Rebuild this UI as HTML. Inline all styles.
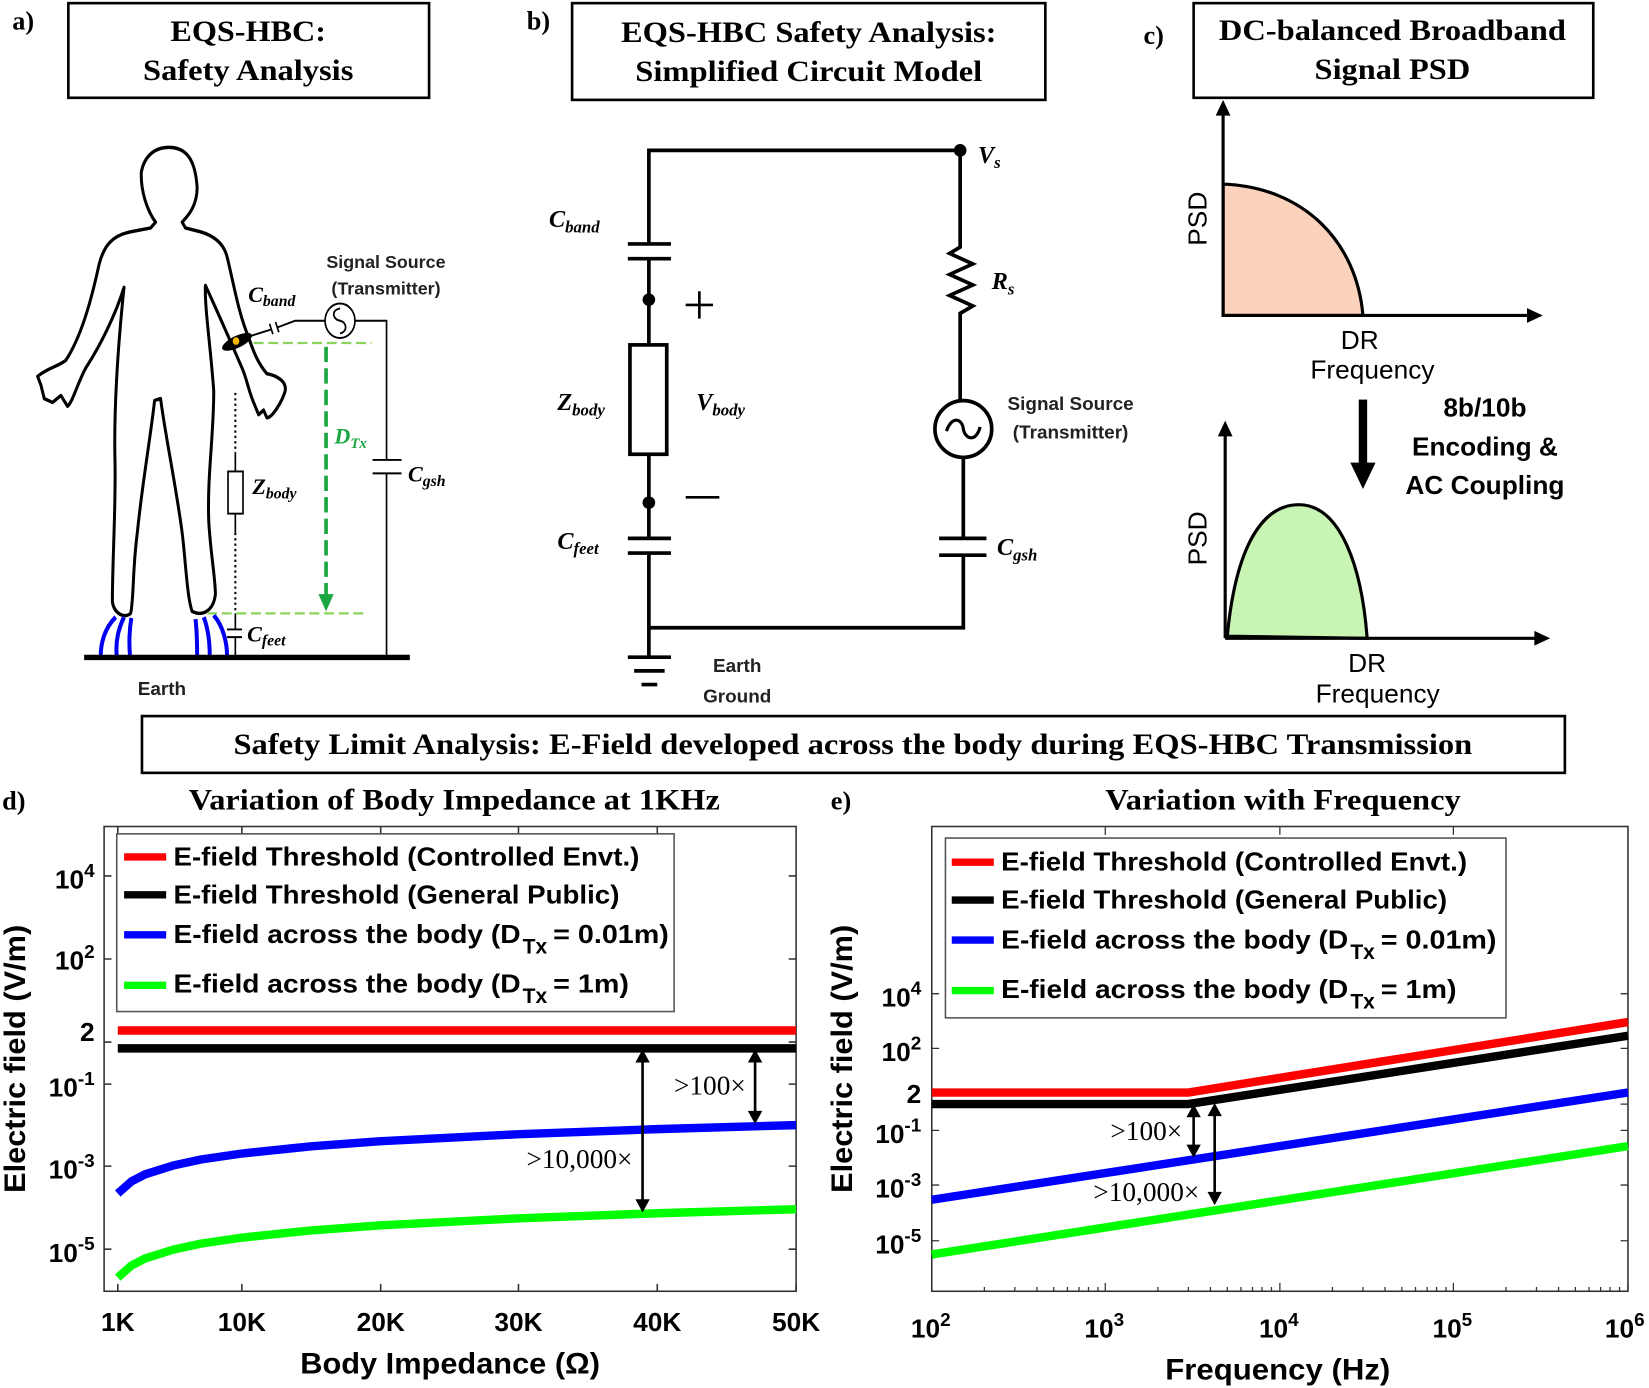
<!DOCTYPE html>
<html><head><meta charset="utf-8"><style>
html,body{margin:0;padding:0;background:#fff}
svg{display:block}
.ser{font-family:"Liberation Serif",serif;font-weight:bold}
.san{font-family:"Liberation Sans",sans-serif;font-weight:bold}
.it{font-family:"Liberation Serif",serif;font-weight:bold;font-style:italic}
</style></head><body>
<svg width="1649" height="1388" viewBox="0 0 1568 1320" preserveAspectRatio="none" xmlns="http://www.w3.org/2000/svg">
<rect width="1568" height="1320" fill="#fff"/>
<!-- Headers -->
<g class="ser" font-size="28" text-anchor="middle">
<text x="22" y="28" font-size="25">a)</text>
<rect x="65" y="3" width="343" height="90" fill="none" stroke="#000" stroke-width="2.5"/>
<text x="236" y="39" textLength="148" lengthAdjust="spacingAndGlyphs">EQS-HBC:</text><text x="236" y="76" textLength="200" lengthAdjust="spacingAndGlyphs">Safety Analysis</text>
<text x="512" y="28" font-size="25">b)</text>
<rect x="544" y="3" width="450" height="92" fill="none" stroke="#000" stroke-width="2.5"/>
<text x="769" y="40" textLength="357" lengthAdjust="spacingAndGlyphs">EQS-HBC Safety Analysis:</text><text x="769" y="77" textLength="330" lengthAdjust="spacingAndGlyphs">Simplified Circuit Model</text>
<text x="1097" y="42" font-size="25">c)</text>
<rect x="1135" y="3" width="380" height="90" fill="none" stroke="#000" stroke-width="2.5"/>
<text x="1324" y="38" textLength="330" lengthAdjust="spacingAndGlyphs">DC-balanced Broadband</text><text x="1324" y="75" textLength="148" lengthAdjust="spacingAndGlyphs">Signal PSD</text>
</g>

<!-- Panel a drawing -->
<g transform="translate(1,94.6) scale(0.316,0.3647)" fill="none" stroke="#000">
<path stroke-width="9" stroke-linejoin="round" d="M505,125 C560,125 585,160 590,230 C590,280 560,305 545,320 L555,335 L600,345 C640,355 670,375 680,410 C700,480 715,560 745,620 C760,660 775,690 800,715 C830,720 860,735 855,760 C845,790 815,830 800,830 L790,810 L775,822 L760,790 C745,760 740,730 725,700 C700,650 660,570 615,485 C612,540 630,640 640,760 C640,880 620,980 625,1100 C630,1180 645,1250 645,1290 C640,1330 610,1350 575,1335 C560,1300 555,1200 545,1130 C525,1000 495,880 480,780 L462,785 C450,880 425,1000 410,1130 C395,1230 400,1300 390,1340 C370,1355 340,1340 335,1310 C335,1200 345,1080 343,950 C340,850 345,700 370,490 C345,560 300,640 255,700 C230,740 215,790 200,800 L180,772 L155,790 L130,780 L120,745 L110,722 C140,700 175,695 195,680 C240,620 270,530 295,430 C310,380 335,355 390,345 L450,335 L465,320 C440,290 420,240 422,190 C430,150 460,125 505,125 Z"/>
<g stroke="#0000ee" stroke-width="12">
<path d="M345,1350 C310,1380 300,1420 300,1450"/><path d="M370,1350 C350,1385 345,1420 348,1450"/><path d="M392,1352 C385,1390 385,1420 388,1450"/>
<path d="M585,1355 C590,1390 590,1420 590,1450"/><path d="M610,1350 C625,1385 628,1420 628,1450"/><path d="M640,1345 C670,1375 680,1420 680,1450"/>
</g>
<ellipse cx="710" cy="632" rx="48" ry="16" transform="rotate(-22 710 632)" fill="#000" stroke="none"/>
<circle cx="707" cy="630" r="10" fill="#f5b800" stroke="none"/>
<g stroke-width="5">
<path d="M750,617 L812,600 M830,595 L885,577 L975,577"/>
<path d="M808,585 L818,612 M826,580 L836,607"/>
<ellipse cx="1020" cy="577" rx="45" ry="45"/>
<path d="M1020,545 C990,550 1000,575 1020,577 C1040,580 1045,605 1020,610"/>
<path d="M1065,577 L1160,577 L1160,940 M1118,940 L1205,940 M1118,975 L1205,975 M1160,975 L1160,1450"/>
<path d="M705,920 L705,970 M705,1080 L705,1130 M705,1340 L705,1382 M680,1382 L725,1382 M680,1402 L725,1402 M705,1402 L705,1450"/>
<rect x="683" y="970" width="45" height="110"/>
</g>
<path d="M705,765 L705,920 M705,1130 L705,1340" stroke-width="6" stroke-dasharray="6,8"/>
<path d="M760,635 L1115,635 M620,1340 L1090,1340" stroke="#8bd35a" stroke-width="6" stroke-dasharray="30,14"/>
<path d="M978,645 L978,1300" stroke="#1aa640" stroke-width="11" stroke-dasharray="40,16"/>
<path d="M955,1290 L978,1335 L1001,1290 Z" fill="#1aa640" stroke="none"/>
<path d="M250,1455 L1230,1455" stroke-width="14"/>
</g>
<g class="san" font-size="17" text-anchor="middle" fill="#222">
<text x="367" y="255">Signal Source</text><text x="367" y="280">(Transmitter)</text>
<text x="154" y="661" font-size="18">Earth</text>
</g>
<g class="it" font-size="21">
<text x="236" y="287">C<tspan font-size="15" dy="4">band</tspan></text>
<text x="318" y="422" fill="#1aa640">D<tspan font-size="14" dy="4">Tx</tspan></text>
<text x="240" y="470">Z<tspan font-size="15" dy="4">body</tspan></text>
<text x="235" y="610">C<tspan font-size="15" dy="4">feet</tspan></text>
<text x="388" y="458">C<tspan font-size="15" dy="4">gsh</tspan></text>
</g>

<!-- Panel b circuit -->
<g fill="none" stroke="#000" stroke-width="3.5">
<path d="M617,232 L617,143 L913,143 L913,235 L903,241 L925,251 L903,261 L925,271 L903,281 L925,291 L913,298 L913,381"/>
<path d="M597,232 L638,232 M597,246 L638,246 M617,246 L617,328 M617,432 L617,512 M597,512 L638,512 M597,526 L638,526 M617,526 L617,625 L617,597 L916,597 L916,528 M893,528 L938,528 M893,512 L938,512 M916,512 L916,435"/>
<rect x="599" y="328" width="35" height="104"/>
<circle cx="916" cy="408" r="27"/>
<path d="M900,410 C905,395 915,398 916,408 C918,418 928,421 932,406" stroke-width="3"/>
<path d="M597,625 L638,625 M603,638 L632,638 M610,651 L625,651"/>
<path d="M652,290 L678,290 M665,277 L665,303 M652,473 L684,473" stroke-width="2.5"/>
</g>
<circle cx="913" cy="143" r="6" fill="#000"/><circle cx="617" cy="285" r="6" fill="#000"/><circle cx="617" cy="478" r="6" fill="#000"/>
<g class="it" font-size="23">
<text x="522" y="216">C<tspan font-size="16" dy="5">band</tspan></text>
<text x="530" y="390">Z<tspan font-size="16" dy="5">body</tspan></text>
<text x="662" y="390">V<tspan font-size="16" dy="5">body</tspan></text>
<text x="530" y="522">C<tspan font-size="16" dy="5">feet</tspan></text>
<text x="930" y="155">V<tspan font-size="16" dy="5">s</tspan></text>
<text x="943" y="275">R<tspan font-size="16" dy="5">s</tspan></text>
<text x="948" y="528">C<tspan font-size="16" dy="5">gsh</tspan></text>
</g>
<g class="san" font-size="18" text-anchor="middle" fill="#222">
<text x="1018" y="390">Signal Source</text><text x="1018" y="417">(Transmitter)</text>
<text x="701" y="639">Earth</text><text x="701" y="668">Ground</text>
</g>

<!-- Panel c -->
<path d="M1163,175 C1240,178 1290,230 1296,300 L1163,300 Z" fill="#fbd3bd" stroke="#000" stroke-width="3"/>
<path d="M1167,605 C1175,520 1200,480 1235,480 C1275,480 1295,540 1300,607 Z" fill="#c8f5b3" stroke="#000" stroke-width="3"/>
<g stroke="#000" stroke-width="3" fill="none">
<path d="M1163,300 L1163,105 M1163,300 L1458,300 M1165,607 L1165,410 M1165,607 L1465,607"/>
</g>
<g fill="#000">
<path d="M1156,110 L1163,95 L1170,110 Z M1452,293 L1467,300 L1452,307 Z M1158,415 L1165,400 L1172,415 Z M1459,600 L1474,607 L1459,614 Z"/>
<rect x="1292" y="380" width="8" height="62"/><path d="M1284,440 L1296,465 L1308,440 Z"/>
</g>
<g font-family="Liberation Sans,sans-serif" font-size="25" text-anchor="middle">
<text transform="translate(1147,208) rotate(-90)">PSD</text>
<text transform="translate(1147,512) rotate(-90)">PSD</text>
<text x="1293" y="332">DR</text><text x="1305" y="360">Frequency</text>
<text x="1300" y="639">DR</text><text x="1310" y="668">Frequency</text>
</g>
<g class="san" font-size="25" text-anchor="middle">
<text x="1412" y="396">8b/10b</text><text x="1412" y="433">Encoding &amp;</text><text x="1412" y="470">AC Coupling</text>
</g>

<!-- Section title -->
<rect x="135" y="681" width="1353" height="54" fill="none" stroke="#000" stroke-width="2.5"/>
<text class="ser" x="811" y="717" font-size="28" text-anchor="middle" textLength="1178" lengthAdjust="spacingAndGlyphs">Safety Limit Analysis: E-Field developed across the body during EQS-HBC Transmission</text>

<!-- Titles -->
<g class="ser" font-size="28">
<text x="2" y="770" font-size="25">d)</text>
<text x="432" y="770" text-anchor="middle" textLength="505" lengthAdjust="spacingAndGlyphs">Variation of Body Impedance at 1KHz</text>
<text x="790" y="770" font-size="25">e)</text>
<text x="1220" y="770" text-anchor="middle" textLength="338" lengthAdjust="spacingAndGlyphs">Variation with Frequency</text>
</g>

<!-- Panel d -->
<rect x="99" y="786" width="658" height="442" fill="none" stroke="#333" stroke-width="1.5"/>
<g stroke="#333" stroke-width="1.5">
<path d="M112,1228 v-7 M230,1228 v-7 M362,1228 v-7 M493,1228 v-7 M625,1228 v-7 M757,1228 v-7 M112,786 v7 M230,786 v7 M362,786 v7 M493,786 v7 M625,786 v7"/>
<path d="M99,833 h7 M99,912 h7 M99,991 h7 M99,1031 h7 M99,1109 h7 M99,1188 h7 M757,833 h-7 M757,912 h-7 M757,991 h-7 M757,1031 h-7 M757,1109 h-7 M757,1188 h-7"/>
</g>
<g fill="none" stroke-width="8">
<path d="M112,980 L757,980" stroke="#ff0000"/>
<path d="M112,997 L757,997" stroke="#000"/>
<path d="M112,1135 L125,1123.5 L138,1116.8 L165,1108.3 L191,1102.7 L230,1097 L296,1090.1 L362,1085.3 L494,1078.6 L625,1073.8 L757,1070" stroke="#0000ff"/>
<path d="M112,1215 L125,1203.5 L138,1196.8 L165,1188.3 L191,1182.7 L230,1177 L296,1170.1 L362,1165.3 L494,1158.6 L625,1153.8 L757,1150" stroke="#00ff00"/>
</g>
<rect x="111" y="793" width="530" height="169" fill="#fff" stroke="#555" stroke-width="1.5"/>
<g stroke-width="7"><path d="M118,815 h40" stroke="#ff0000"/><path d="M118,851 h40" stroke="#000"/><path d="M118,889 h40" stroke="#0000ff"/><path d="M118,937 h40" stroke="#00ff00"/></g>
<g class="san" font-size="25">
<text x="165" y="823" textLength="443" lengthAdjust="spacingAndGlyphs">E-field Threshold (Controlled Envt.)</text>
<text x="165" y="859" textLength="424" lengthAdjust="spacingAndGlyphs">E-field Threshold (General Public)</text>
<text x="165" y="897" textLength="330" lengthAdjust="spacingAndGlyphs">E-field across the body (D</text><text x="497" y="907" font-size="20">Tx</text><text x="526" y="897" textLength="110" lengthAdjust="spacingAndGlyphs">= 0.01m)</text>
<text x="165" y="944" textLength="330" lengthAdjust="spacingAndGlyphs">E-field across the body (D</text><text x="497" y="954" font-size="20">Tx</text><text x="526" y="944" textLength="72" lengthAdjust="spacingAndGlyphs">= 1m)</text>
</g>
<g class="san" font-size="25" text-anchor="end">
<text x="90" y="845">10<tspan font-size="18" dy="-11">4</tspan></text>
<text x="90" y="922">10<tspan font-size="18" dy="-11">2</tspan></text>
<text x="90" y="990">2</text>
<text x="90" y="1043">10<tspan font-size="18" dy="-11">-1</tspan></text>
<text x="90" y="1121">10<tspan font-size="18" dy="-11">-3</tspan></text>
<text x="90" y="1200">10<tspan font-size="18" dy="-11">-5</tspan></text>
</g>
<g class="san" font-size="25" text-anchor="middle">
<text x="112" y="1266">1K</text><text x="230" y="1266">10K</text><text x="362" y="1266">20K</text><text x="493" y="1266">30K</text><text x="625" y="1266">40K</text><text x="757" y="1266">50K</text>
<text x="428" y="1306" font-size="28" textLength="285" lengthAdjust="spacingAndGlyphs">Body Impedance (Ω)</text>
<text transform="translate(24,1007) rotate(-90)" font-size="28" textLength="255" lengthAdjust="spacingAndGlyphs">Electric field (V/m)</text>
</g>
<g stroke="#000" stroke-width="2.5" fill="#000">
<path d="M718,1006 L718,1061 M611,1006 L611,1145"/>
<path d="M712,1010 L718,999 L724,1010 Z M712,1057 L718,1068 L724,1057 Z M605,1010 L611,999 L617,1010 Z M605,1141 L611,1152 L617,1141 Z" stroke-width="1"/>
</g>
<g font-family="Liberation Serif,serif" font-size="26" text-anchor="middle">
<text x="675" y="1041">&gt;100×</text><text x="551" y="1111">&gt;10,000×</text>
</g>

<!-- Panel e -->
<rect x="886" y="786" width="662" height="442" fill="none" stroke="#333" stroke-width="1.5"/>
<g stroke="#333" stroke-width="1.2">
<path d="M886,1228 v-8 M1051,1228 v-8 M1217,1228 v-8 M1382,1228 v-8 M1548,1228 v-8 M1051,786 v8 M1217,786 v8 M1382,786 v8"/>
<path d="M936,1228v-4M965,1228v-4M986,1228v-4M1002,1228v-4M1015,1228v-4M1026,1228v-4M1035,1228v-4M1044,1228v-4 M1101,1228v-4M1130,1228v-4M1151,1228v-4M1167,1228v-4M1180,1228v-4M1191,1228v-4M1200,1228v-4M1209,1228v-4 M1267,1228v-4M1296,1228v-4M1317,1228v-4M1333,1228v-4M1346,1228v-4M1357,1228v-4M1366,1228v-4M1375,1228v-4 M1432,1228v-4M1461,1228v-4M1482,1228v-4M1498,1228v-4M1511,1228v-4M1522,1228v-4M1531,1228v-4M1540,1228v-4"/>
<path d="M886,945 h7 M886,997 h7 M886,1050 h7 M886,1075 h7 M886,1127 h7 M886,1180 h7 M1548,945 h-7 M1548,997 h-7 M1548,1050 h-7 M1548,1075 h-7 M1548,1127 h-7 M1548,1180 h-7"/>
</g>
<g fill="none" stroke-width="8">
<path d="M886,1039 L1130,1039 L1548,972" stroke="#ff0000"/>
<path d="M886,1050 L1130,1050 L1548,985" stroke="#000"/>
<path d="M886,1141 L1548,1039" stroke="#0000ff"/>
<path d="M886,1193 L1548,1090" stroke="#00ff00"/>
</g>
<rect x="899" y="797" width="533" height="171" fill="#fff" stroke="#555" stroke-width="1.5"/>
<g stroke-width="7"><path d="M905,820 h40" stroke="#ff0000"/><path d="M905,856 h40" stroke="#000"/><path d="M905,894 h40" stroke="#0000ff"/><path d="M905,942 h40" stroke="#00ff00"/></g>
<g class="san" font-size="25">
<text x="952" y="828" textLength="443" lengthAdjust="spacingAndGlyphs">E-field Threshold (Controlled Envt.)</text>
<text x="952" y="864" textLength="424" lengthAdjust="spacingAndGlyphs">E-field Threshold (General Public)</text>
<text x="952" y="902" textLength="330" lengthAdjust="spacingAndGlyphs">E-field across the body (D</text><text x="1284" y="912" font-size="20">Tx</text><text x="1313" y="902" textLength="110" lengthAdjust="spacingAndGlyphs">= 0.01m)</text>
<text x="952" y="949" textLength="330" lengthAdjust="spacingAndGlyphs">E-field across the body (D</text><text x="1284" y="959" font-size="20">Tx</text><text x="1313" y="949" textLength="72" lengthAdjust="spacingAndGlyphs">= 1m)</text>
</g>
<g class="san" font-size="25" text-anchor="end">
<text x="876" y="957">10<tspan font-size="18" dy="-11">4</tspan></text>
<text x="876" y="1009">10<tspan font-size="18" dy="-11">2</tspan></text>
<text x="876" y="1049">2</text>
<text x="876" y="1087">10<tspan font-size="18" dy="-11">-1</tspan></text>
<text x="876" y="1139">10<tspan font-size="18" dy="-11">-3</tspan></text>
<text x="876" y="1192">10<tspan font-size="18" dy="-11">-5</tspan></text>
</g>
<g class="san" font-size="25" text-anchor="middle">
<text x="885" y="1272">10<tspan font-size="18" dy="-11">2</tspan></text>
<text x="1050" y="1272">10<tspan font-size="18" dy="-11">3</tspan></text>
<text x="1216" y="1272">10<tspan font-size="18" dy="-11">4</tspan></text>
<text x="1381" y="1272">10<tspan font-size="18" dy="-11">5</tspan></text>
<text x="1545" y="1272">10<tspan font-size="18" dy="-11">6</tspan></text>
<text x="1215" y="1312" font-size="28" textLength="214" lengthAdjust="spacingAndGlyphs">Frequency (Hz)</text>
<text transform="translate(810,1007) rotate(-90)" font-size="28" textLength="255" lengthAdjust="spacingAndGlyphs">Electric field (V/m)</text>
</g>
<g stroke="#000" stroke-width="2.5" fill="#000">
<path d="M1135,1058 L1135,1093 M1155,1057 L1155,1138"/>
<path d="M1129,1062 L1135,1051 L1141,1062 Z M1129,1089 L1135,1100 L1141,1089 Z M1149,1061 L1155,1050 L1161,1061 Z M1149,1134 L1155,1145 L1161,1134 Z" stroke-width="1"/>
</g>
<g font-family="Liberation Serif,serif" font-size="26" text-anchor="middle">
<text x="1090" y="1084">&gt;100×</text><text x="1090" y="1142">&gt;10,000×</text>
</g>
</svg>
</body></html>
